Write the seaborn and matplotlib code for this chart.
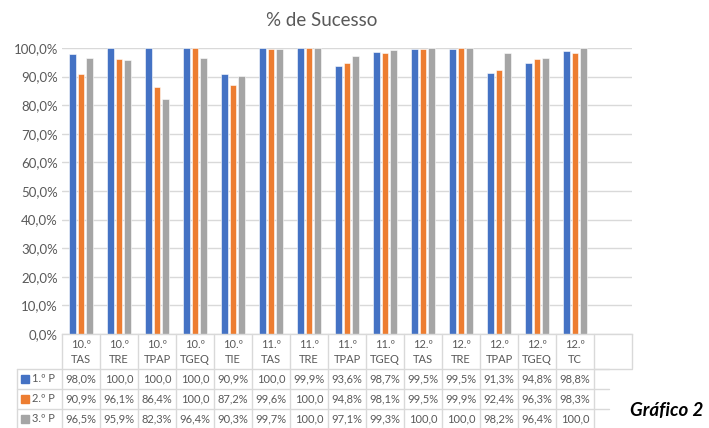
import matplotlib
matplotlib.use("Agg")
import matplotlib.pyplot as plt
import seaborn as sns
import pandas as pd
import numpy as np

categories = ["10.º\nTAS", "10.º\nTRE", "10.º\nTPAP", "10.º\nTGEQ", "10.º\nTIE",
              "11.º\nTAS", "11.º\nTRE", "11.º\nTPAP", "11.º\nTGEQ",
              "12.º\nTAS", "12.º\nTRE", "12.º\nTPAP", "12.º\nTGEQ", "12.º\nTC"]
series = ["1.º P", "2.º P", "3.º P"]
p1 = [98.0, 100.0, 100.0, 100.0, 90.9, 100.0, 99.9, 93.6, 98.7, 99.5, 99.5, 91.3, 94.8, 98.8]
p2 = [90.9, 96.1, 86.4, 100.0, 87.2, 99.6, 100.0, 94.8, 98.1, 99.5, 99.9, 92.4, 96.3, 98.3]
p3 = [96.5, 95.9, 82.3, 96.4, 90.3, 99.7, 100.0, 97.1, 99.3, 100.0, 100.0, 98.2, 96.4, 100.0]
yticks = [0, 10, 20, 30, 40, 50, 60, 70, 80, 90, 100]
title = "% de Sucesso"
caption = "Gráfico 2"

colors = ["#4472C4", "#ED7D31", "#A5A5A5"]
grid_c = "#D9D9D9"
text_c = "#595959"

sns.set_theme(style="white")
plt.rcParams["font.family"] = ["Lato", "DejaVu Sans"]

rows = []
for s, vals in zip(series, [p1, p2, p3]):
    for c, v in zip(categories, vals):
        rows.append({"cat": c, "serie": s, "val": v})
df = pd.DataFrame(rows)

W, H = 709, 428
fig = plt.figure(figsize=(W / 100, H / 100), dpi=100)
x0, x1, y0, y1 = 62, 632, 48, 334
ax = fig.add_axes([x0 / W, 1 - y1 / H, (x1 - x0) / W, (y1 - y0) / H])

sns.barplot(data=df, x="cat", y="val", hue="serie", order=categories,
            hue_order=series, palette=colors, width=0.66, gap=0.18,
            saturation=1, legend=False, ax=ax, edgecolor="white", linewidth=0.4)

n_cols = len(categories) + 1
ax.set_xlim(-0.5, n_cols - 0.5)
ax.set_ylim(0, 100)
ax.set_yticks(yticks)
ax.set_yticklabels([f"{t:.1f}%".replace(".", ",") for t in yticks], color=text_c, fontsize=9.5)
ax.tick_params(axis="y", length=0, pad=3)
ax.set_xticks([])
ax.set_xlabel("")
ax.set_ylabel("")
ax.yaxis.grid(True, color=grid_c, linewidth=1)
ax.set_axisbelow(True)
for sp in ["top", "right", "left"]:
    ax.spines[sp].set_visible(False)
ax.spines["bottom"].set_color(grid_c)
ax.spines["bottom"].set_linewidth(1)

fig.text(322 / W, 1 - 20 / H, title, ha="center", va="center", fontsize=13.5, color=text_c)

# data table (pixel coordinates)
def px(x, y):
    return x / W, 1 - y / H

col_w = (x1 - x0) / n_cols
head_top = 334
row_edges = [369, 389, 409, 428]
line_kw = dict(color=grid_c, linewidth=1, transform=fig.transFigure)

for i in range(n_cols + 1):
    xx = x0 + i * col_w
    bottom = 428 if i < n_cols else 368
    fig.add_artist(plt.Line2D([xx / W, xx / W], [1 - head_top / H, 1 - bottom / H], **line_kw))
fig.add_artist(plt.Line2D([17 / W, 17 / W], [1 - 369 / H, 1 - 428 / H], **line_kw))
for yy in row_edges[:-1]:
    fig.add_artist(plt.Line2D([17 / W, (x0 + (n_cols - 1) * col_w + 15) / W],
                              [1 - yy / H, 1 - yy / H], **line_kw))
fig.add_artist(plt.Line2D([(x0 + (n_cols - 1) * col_w) / W, x1 / W],
                          [1 - 369 / H, 1 - 369 / H], **line_kw))

for i, c in enumerate(categories):
    cx = x0 + (i + 0.5) * col_w
    fig.text(*px(cx, 352), c, ha="center", va="center", fontsize=8,
             color=text_c, linespacing=1.45)

def fmt(v):
    s = f"{v:.1f}%".replace(".", ",")
    return s[:5] if len(s) > 5 else s

for r, (s, vals, col) in enumerate(zip(series, [p1, p2, p3], colors)):
    cy = (row_edges[r] + row_edges[r + 1]) / 2
    fig.add_artist(plt.Rectangle(px(21, cy + 4), 8 / W, 8 / H, color=col,
                                 transform=fig.transFigure))
    fig.text(*px(32, cy), s, ha="left", va="center", fontsize=8, color=text_c)
    for i, v in enumerate(vals):
        cx = x0 + (i + 0.5) * col_w
        fig.text(*px(cx, cy), fmt(v), ha="center", va="center", fontsize=8, color=text_c)

fig.text(*px(630, 410), caption, ha="left", va="center", fontsize=13.5,
         fontweight="bold", fontstyle="italic", color="black")

fig.savefig("out.png", dpi=100)
